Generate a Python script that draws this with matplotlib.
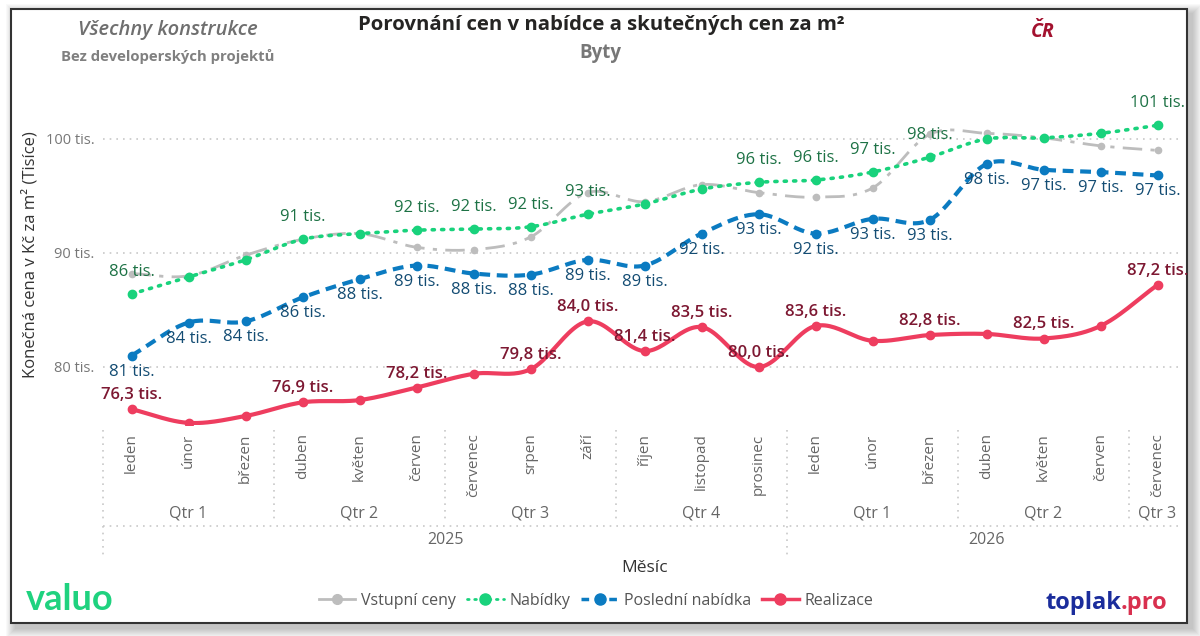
import matplotlib
matplotlib.use('Agg')
import matplotlib.pyplot as plt
import numpy as np
from matplotlib.patches import Rectangle
from matplotlib.lines import Line2D

plt.rcParams['font.family'] = ['Open Sans', 'DejaVu Sans']

# ---------------- data ----------------
months = ['leden', 'únor', 'březen', 'duben', 'květen', 'červen', 'červenec', 'srpen', 'září',
          'říjen', 'listopad', 'prosinec',
          'leden', 'únor', 'březen', 'duben', 'květen', 'červen', 'červenec']
quarters = ['Qtr 1', 'Qtr 2', 'Qtr 3', 'Qtr 4', 'Qtr 1', 'Qtr 2', 'Qtr 3']
quarter_spans = [(0, 2), (3, 5), (6, 8), (9, 11), (12, 14), (15, 17), (18, 18)]
years = ['2025', '2026']
year_spans = [(0, 11), (12, 18)]

vstupni = [88.2, 88.0, 89.8, 91.2, 91.7, 90.5, 90.3, 91.4, 95.3, 94.5, 96.0, 95.3,
           94.9, 95.7, 100.4, 100.5, 100.1, 99.4, 99.0]
nabidky = [86.4, 87.9, 89.4, 91.2, 91.7, 92.0, 92.1, 92.3, 93.4, 94.3, 95.6, 96.2,
           96.4, 97.1, 98.4, 100.0, 100.1, 100.5, 101.2]
posledni = [81.0, 83.9, 84.0, 86.1, 87.7, 88.9, 88.2, 88.1, 89.4, 88.9, 91.7, 93.4,
            91.7, 93.0, 92.9, 97.8, 97.3, 97.1, 96.8]
realizace = [76.3, 75.1, 75.7, 76.9, 77.1, 78.2, 79.4, 79.8, 84.0, 81.4, 83.5, 80.0,
             83.6, 82.3, 82.8, 82.9, 82.5, 83.6, 87.2]

nabidky_labeled = [0, 3, 5, 6, 7, 8, 11, 12, 13, 14, 18]
posledni_labeled = list(range(19))
realizace_labeled = [0, 3, 5, 7, 8, 9, 10, 11, 12, 14, 16, 18]

yticks = [80, 90, 100]

# ---------------- helpers ----------------
W, H = 1200, 636
def fx(x): return x / W
def fy(y): return 1 - y / H

def smooth(ys, n=24):
    ys = np.asarray(ys, float)
    N = len(ys)
    xs_out, ys_out = [], []
    for i in range(N - 1):
        p0 = ys[i - 1] if i > 0 else ys[i] - (ys[i + 1] - ys[i])
        p3 = ys[i + 2] if i + 2 < N else ys[i + 1] + (ys[i + 1] - ys[i])
        m1 = (ys[i + 1] - p0) / 2
        m2 = (p3 - ys[i]) / 2
        t = np.linspace(0, 1, n, endpoint=(i == N - 2))
        h00 = 2 * t**3 - 3 * t**2 + 1
        h10 = t**3 - 2 * t**2 + t
        h01 = -2 * t**3 + 3 * t**2
        h11 = t**3 - t**2
        xs_out.append(i + t)
        ys_out.append(h00 * ys[i] + h10 * m1 + h01 * ys[i + 1] + h11 * m2)
    return np.concatenate(xs_out), np.concatenate(ys_out)

fmt_int = lambda v: f"{v:.0f} tis."
fmt_dec = lambda v: f"{v:.1f} tis.".replace('.', ',', 1)

# ---------------- figure & card ----------------
fig = plt.figure(figsize=(12, 6.36), dpi=100)
fig.patch.set_facecolor('white')

cx0, cy0, cx1, cy1 = 11, 9, 1187, 623
for d in range(10, 0, -1):
    fig.add_artist(Rectangle((fx(cx0 + 5 - d), fy(cy1 + 5 + d)),
                             (cx1 - cx0 + 2 * d) / W, (cy1 - cy0 + 2 * d) / H,
                             transform=fig.transFigure, facecolor='black',
                             edgecolor='none', alpha=0.022, zorder=-12))
fig.add_artist(Rectangle((fx(cx0), fy(cy1)), (cx1 - cx0) / W, (cy1 - cy0) / H,
                         transform=fig.transFigure, facecolor='white',
                         edgecolor='#333333', linewidth=1.5, zorder=-10))

# ---------------- axes ----------------
ax_l, ax_r, ax_t, ax_b = 103, 1180, 90, 425
ax = fig.add_axes([fx(ax_l), fy(ax_b), (ax_r - ax_l) / W, (ax_b - ax_t) / H])
ax.set_facecolor('none')
ppu = 11.4
ax.set_ylim(80 - (ax_b - 367) / ppu, 80 + (367 - ax_t) / ppu)
ax.set_xlim(-0.5, -0.5 + (ax_r - ax_l) / 57.0)
for s in ax.spines.values():
    s.set_visible(False)

ax.set_yticks(yticks)
ax.set_yticklabels([fmt_int(v) for v in yticks], color='#777777', fontsize=10.5)
ax.tick_params(axis='y', length=0, pad=6)
ax.grid(axis='y', color='#c8c8c8', linestyle=(0, (1, 3)), linewidth=1.2)
ax.set_xticks(range(len(months)))
ax.set_xticklabels(months, rotation=90, color='#666666', fontsize=11, va='top')
ax.tick_params(axis='x', length=0, pad=6)

c_gray, c_green, c_blue, c_red = '#bdbdbd', '#19d27c', '#0b7bc1', '#ee3d5f'
c_green_t, c_blue_t, c_red_t = '#1d7245', '#134c73', '#7d1832'

x = np.arange(len(months))
sx, sy = smooth(vstupni)
ax.plot(sx, sy, color=c_gray, linewidth=2, linestyle=(0, (7, 3, 1.5, 3)), zorder=2)
ax.plot(x, vstupni, 'o', color=c_gray, markersize=4.5, zorder=2)

sx, sy = smooth(nabidky)
ax.plot(sx, sy, color=c_green, linewidth=2.6, linestyle=(0, (0.6, 2.0)),
        dash_capstyle='round', zorder=3)
ax.plot(x, nabidky, 'o', color=c_green, markersize=6, zorder=3)

sx, sy = smooth(posledni)
ax.plot(sx, sy, color=c_blue, linewidth=3, linestyle=(0, (2.6, 1.6)), zorder=4)
ax.plot(x, posledni, 'o', color=c_blue, markersize=6, zorder=4)

sx, sy = smooth(realizace)
ax.plot(sx, sy, color=c_red, linewidth=3, zorder=5)
ax.plot(x, realizace, 'o', color=c_red, markersize=6, zorder=5)

for i in nabidky_labeled:
    ax.annotate(fmt_int(nabidky[i]), (i, nabidky[i]), xytext=(0, 22),
                textcoords='offset pixels', ha='center', va='center',
                color=c_green_t, fontsize=12, zorder=6)
for i in posledni_labeled:
    ax.annotate(fmt_int(posledni[i]), (i, posledni[i]), xytext=(0, -16),
                textcoords='offset pixels', ha='center', va='center',
                color=c_blue_t, fontsize=12, zorder=6)
for i in realizace_labeled:
    ax.annotate(fmt_dec(realizace[i]), (i, realizace[i]), xytext=(0, 14),
                textcoords='offset pixels', ha='center', va='center',
                color=c_red_t, fontsize=12, fontweight='semibold', zorder=6)

# ---------------- hierarchical category axis ----------------
xt = ax.get_xaxis_transform()
def ay(py):
    return (ax_b - py) / (ax_b - ax_t)

sep_style = dict(color='#c8c8c8', linestyle=(0, (1, 3)), linewidth=1.2, clip_on=False,
                 transform=xt)
for (a, b) in quarter_spans:
    ax.plot([a - 0.5, a - 0.5], [ay(430), ay(522)], **sep_style)
for (a, b), q in zip(quarter_spans, quarters):
    ax.text((a + b) / 2, ay(513), q, transform=xt, ha='center', va='center',
            color='#666666', fontsize=11.5)
ax.plot([-0.5, ax.get_xlim()[1]], [ay(526), ay(526)], **sep_style)
for (a, b) in year_spans:
    ax.plot([a - 0.5, a - 0.5], [ay(526), ay(555)], **sep_style)
for (a, b), yr in zip(year_spans, years):
    xc = (a - 0.5 + b + 0.5) / 2
    ax.text(xc, ay(540), yr, transform=xt, ha='center', va='center',
            color='#666666', fontsize=11.5)

# ---------------- texts ----------------
fig.text(fx(601), fy(25), 'Porovnání cen v nabídce a skutečných cen za m²', ha='center',
         va='center', fontsize=14.7, fontweight='bold', color='#252423')
fig.text(fx(600), fy(53), 'Byty', ha='center', va='center', fontsize=13.5,
         fontweight='bold', color='#777777')
fig.text(fx(168), fy(30), 'Všechny konstrukce', ha='center', va='center', fontsize=14.5,
         fontstyle='italic', fontweight='semibold', color='#6f6f6f')
fig.text(fx(168), fy(57), 'Bez developerských projektů', ha='center', va='center',
         fontsize=10.7, fontweight='bold', color='#808080')
fig.text(fx(1043), fy(32), 'ČR', ha='center', va='center', fontsize=14,
         fontstyle='italic', fontweight='bold', color='#a3122f')
fig.text(fx(30), fy(255), 'Konečná cena v Kč za m² (Tisíce)', rotation=90, ha='center',
         va='center', fontsize=12, color='#333333')
fig.text(fx(645), fy(568), 'Měsíc', ha='center', va='center', fontsize=12.5,
         color='#333333')

fig.text(fx(26), fy(600), 'valuo', ha='left', va='center', fontsize=26,
         fontweight='bold', color='#1fd27f', family='Lato')
t1 = fig.text(fx(1045), fy(603), 'toplak', ha='left', va='center', fontsize=17,
              fontweight='bold', color='#1b2d9c')
fig.canvas.draw()
bb = t1.get_window_extent()
fig.text(bb.x1 / W, fy(603), '.pro', ha='left', va='center', fontsize=17,
         fontweight='bold', color='#d9304f')

# ---------------- legend ----------------
handles = [
    Line2D([], [], color=c_gray, linewidth=2, marker='o', markersize=7),
    Line2D([], [], color=c_green, linewidth=2, linestyle=(0, (0.6, 2)),
           dash_capstyle='round', marker='o', markersize=8),
    Line2D([], [], color=c_blue, linewidth=2.5, linestyle=(0, (2.2, 1.8)),
           marker='o', markersize=8),
    Line2D([], [], color=c_red, linewidth=2.5, marker='o', markersize=8),
]
labels = ['Vstupní ceny', 'Nabídky', 'Poslední nabídka', 'Realizace']
fig.legend(handles, labels, loc='center', bbox_to_anchor=(fx(596), fy(601)), ncol=4,
           frameon=False, fontsize=11.5, handlelength=2.3, handletextpad=0.35,
           columnspacing=0.7, labelcolor='#555555')

fig.savefig('out.png', dpi=100, facecolor='white')
